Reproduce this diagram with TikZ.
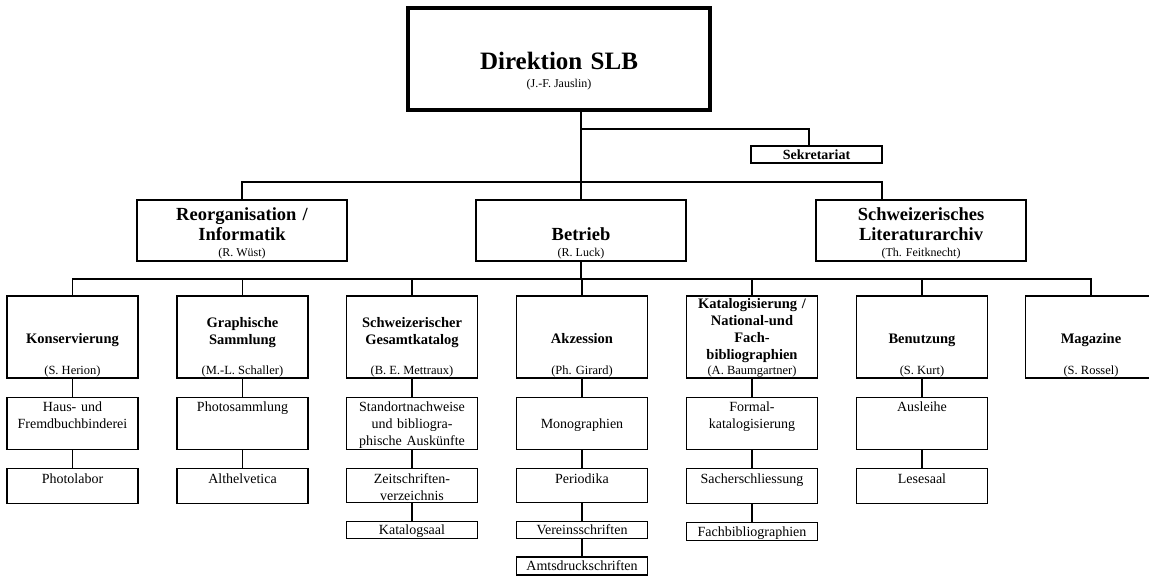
\documentclass[tikz,border=0pt]{standalone}
\usepackage{fontspec}
\setmainfont{Liberation Serif}
\usetikzlibrary{positioning}

\tikzset{
    link/.style={line width=1.2pt},
    head/.style={draw, line width=4pt, text width=292pt, inner xsep=5pt, inner ysep=2pt, align=center,
        text height=60pt, text depth=38pt, font=\fontsize{25}{30}\selectfont\bfseries},
    lead/.style={draw, line width=2.5pt, text width=200pt, inner xsep=5pt, inner ysep=2pt, align=center,
        font=\fontsize{18.5}{20.5}\selectfont\bfseries},
    unit/.style={draw, line width=1.5pt, text width=125pt, inner xsep=3pt, inner ysep=2pt, align=center,
        font=\fontsize{14.5}{17}\selectfont\bfseries},
    sub/.style={draw, line width=1.2pt, text width=125pt, inner xsep=3pt, inner ysep=3pt, align=center,
        text height=11.5pt, font=\fontsize{14}{17}\selectfont},
    who/.style={anchor=south, inner sep=1.5pt, font=\fontsize{12.5}{14}\selectfont},
    lead who/.style={who, inner sep=3pt, font=\fontsize{12}{14}\selectfont},
    one line/.style={text height=46pt, text depth=32pt},
    two lines/.style={text height=29.5pt, text depth=48.5pt},
}

\begin{document}
\begin{tikzpicture}[x=1pt, y=-1pt]
        \useasboundingbox (0,0) rectangle (1149,577);

        \node[head] (dir) at (559,59) {Direktion SLB};
        \node[lead who, above=19pt of dir.south] (dir-who) {(J.-F. Jauslin)};
        \node[draw, line width=1.5pt, minimum width=131pt, minimum height=17pt, inner sep=0pt,
            font=\fontsize{14}{16}\selectfont\bfseries] (sek) at (816.5,154.5) {Sekretariat};

        \node[lead, text height=18.5pt, text depth=38.5pt] (reorg) at (242,230.5) {Reorganisation /\\Informatik};
        \node[lead, text height=39pt, text depth=18pt] (betrieb) at (581,230.5) {Betrieb};
        \node[lead, text height=18.5pt, text depth=38.5pt] (sla) at (921,230.5) {Schweizerisches\\Literaturarchiv};
        \node[lead who] (reorg-who) at (reorg.south) {(R. Wüst)};
        \node[lead who] (betrieb-who) at (betrieb.south) {(R. Luck)};
        \node[lead who] (sla-who) at (sla.south) {(Th. Feitknecht)};

        \node[unit, one line] (kons) at (72.5,337) {Konservierung};
        \node[unit, two lines] (graph) at (242.5,337) {Graphische\\Sammlung};
        \node[unit, two lines] (sgk) at (412,337) {Schweizerischer\\Gesamtkatalog};
        \node[unit, one line] (akz) at (582,337) {Akzession};
        \node[unit, text height=10.8pt, text depth=67.2pt] (katal) at (752,337) {Katalogisierung /\\National-und\\Fach-\\bibliographien};
        \node[unit, one line] (benu) at (922,337) {Benutzung};
        \node[unit, one line] (mag) at (1091,337) {Magazine};
        \foreach \n/\w in {kons/S. Herion, graph/M.-L. Schaller, sgk/B. E. Mettraux, akz/Ph. Girard,
            katal/A. Baumgartner, benu/S. Kurt, mag/S. Rossel}
            \node[who] (\n-who) at (\n.south) {(\w)};

        \node[sub, text depth=34.5pt, below=18pt of kons] (binderei) {Haus- und\\Fremdbuchbinderei};
        \node[sub, text depth=17.5pt, below=18pt of binderei] (photolabor) {Photolabor};
        \node[sub, text depth=34.5pt, below=18pt of graph] (photos) {Photosammlung};
        \node[sub, text depth=17.5pt, below=18pt of photos] (althelv) {Althelvetica};
        \node[sub, text depth=34.5pt, below=18pt of sgk] (standort) {Standortnachweise\\und bibliogra-\\phische Auskünfte};
        \node[sub, text depth=16.5pt, below=18pt of standort] (zeitschr) {Zeitschriften-\\verzeichnis};
        \node[sub, text height=10pt, text depth=1pt, below=18pt of zeitschr] (katsaal) {Katalogsaal};
        \node[sub, text height=28pt, text depth=18pt, below=18pt of akz] (mono) {Monographien};
        \node[sub, text depth=16.5pt, below=18pt of mono] (period) {Periodika};
        \node[sub, text height=10pt, text depth=1pt, below=18pt of period] (verein) {Vereinsschriften};
        \node[sub, text height=10.5pt, text depth=1.5pt, below=17pt of verein] (amts) {Amtsdruckschriften};
        \node[sub, text depth=34.5pt, below=18pt of katal] (formal) {Formal-\\katalogisierung};
        \node[sub, text depth=17.5pt, below=18pt of formal] (sacher) {Sacherschliessung};
        \node[sub, text height=10.5pt, text depth=1.5pt, below=18pt of sacher] (fachbib) {Fachbibliographien};
        \node[sub, text depth=34.5pt, below=18pt of benu] (ausleihe) {Ausleihe};
        \node[sub, text depth=17.5pt, below=18pt of ausleihe] (lesesaal) {Lesesaal};

        \coordinate (sekfork) at (581,129);
        \coordinate (leadfork) at (581,182);
        \coordinate (rowfork) at (581,279);

        \draw[link] (dir.south -| betrieb.north) -- (betrieb.north);
        \draw[link] (sekfork) -| ([xshift=-7.5pt]sek.north);
        \draw[link] (reorg.north) |- (leadfork) -| ([xshift=-39pt]sla.north);
        \draw[link] (betrieb.south) -- (rowfork);
        \draw[link] (kons.north) |- (rowfork) -| (mag.north);
        \foreach \n in {graph,sgk,akz,katal,benu}
            \draw[link] (\n.north) -- (\n.north |- rowfork);

        \path[link]
        (kons) edge (binderei)
        (binderei) edge (photolabor)
        (graph) edge (photos)
        (photos) edge (althelv)
        (sgk) edge (standort)
        (standort) edge (zeitschr)
        (zeitschr) edge (katsaal)
        (akz) edge (mono)
        (mono) edge (period)
        (period) edge (verein)
        (verein) edge (amts)
        (katal) edge (formal)
        (formal) edge (sacher)
        (sacher) edge (fachbib)
        (benu) edge (ausleihe)
        (ausleihe) edge (lesesaal)
        ;
\end{tikzpicture}
\end{document}
